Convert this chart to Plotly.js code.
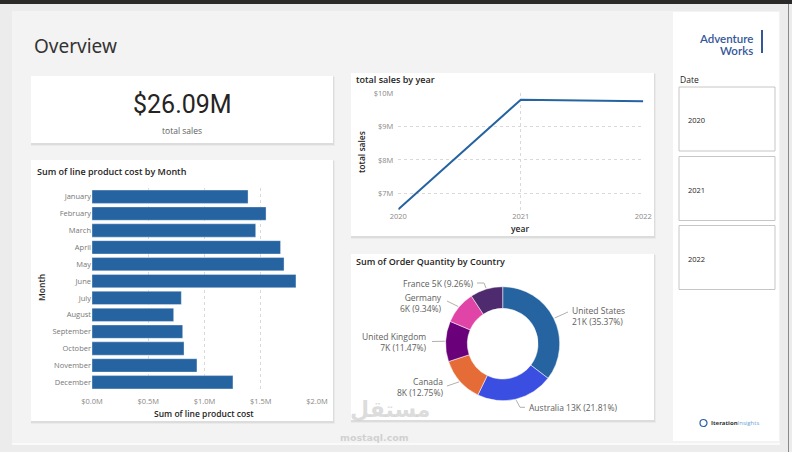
<!DOCTYPE html>
<html><head><meta charset="utf-8">
<script src="https://cdn.plot.ly/plotly-3.0.1.min.js"></script>
<style>html,body{margin:0;padding:0;background:#ececec;overflow:hidden}#chart{width:792px;height:452px}</style>
</head><body><div id="chart"></div>
<script>
// ---------- data ----------
const months = ['January','February','March','April','May','June','July','August','September','October','November','December'];
const lineCostM = [1.387,1.547,1.455,1.676,1.707,1.813,0.794,0.726,0.806,0.818,0.933,1.253];
const years = [2020,2021,2022];
const salesM = [6.52,9.81,9.76];
const countries = ['United States','Australia','Canada','United Kingdom','Germany','France'];
const orderQty = [21000,12950,7570,6810,5546,5498];
const countryColors = ['#2664a1','#3b4ee2','#e66c37','#6b007b','#e044a7','#4e2a6f'];
const slicerYears = ['2020','2021','2022'];
const barTicks = [0,0.5,1.0,1.5,2.0];
const lineTicks = [7,8,9,10];

// ---------- helpers ----------
const W=792,H=452;
const X=p=>p/W, Y=p=>1-p/H;
const FONT='Open Sans, Noto Sans, sans-serif';
const shapes=[], ann=[];
function rect(x0,y0,x1,y1,fill,line,layer){shapes.push({type:'rect',xref:'paper',yref:'paper',x0:X(x0),x1:X(x1),y0:Y(y1),y1:Y(y0),fillcolor:fill,line:{width:line?1:0,color:line||'rgba(0,0,0,0)'},layer:layer||'below'});}
function seg(x0,y0,x1,y1,color,w){shapes.push({type:'line',xref:'paper',yref:'paper',x0:X(x0),x1:X(x1),y0:Y(y0),y1:Y(y1),line:{color:color,width:w||1},layer:'above'});}
function txt(x,y,text,o){o=o||{};ann.push({xref:'paper',yref:'paper',x:X(x),y:Y(y),text:text,showarrow:false,xanchor:o.xa||'left',yanchor:o.ya||'middle',align:o.align||(o.xa==='right'?'right':'left'),textangle:o.angle||0,font:{family:o.family||FONT,size:o.size||9,color:o.color||'#252423',weight:o.weight||'normal'}});}
function card(x0,y0,x1,y1){rect(x0,y0+1,x1+2,y1+3,'rgba(0,0,0,0.035)');rect(x0,y0,x1+1,y1+2,'rgba(0,0,0,0.06)');rect(x0,y0,x1,y1,'#ffffff');}

// ---------- background ----------
rect(0,0,792,452,'#ececec');
rect(12,11,780,443,'#f3f3f3');
rect(12,443,780,445,'#fafafa');
rect(0,0,792,4,'#2b2a29');
rect(788,4,789,452,'#8a8a8a');
rect(673,12,779,441,'#ffffff');
card(31,76,333,143);
card(31,160,333,421);
card(351,73,654,236);
card(351,254,654,420);

// ---------- texts ----------
txt(32,46,'Overview',{size:19,color:'#333333',family:'Noto Sans, sans-serif'});
const total = salesM.reduce((a,b)=>a+b,0);
txt(182,104,'$'+total.toFixed(2)+'M',{xa:'center',size:25,color:'#252423',family:'Roboto, sans-serif'});
txt(182,130,'total sales',{xa:'center',size:8.5,color:'#605e5c'});

txt(35,171,'Sum of line product cost by Month',{size:9,weight:600});
txt(41,288,'Month',{xa:'center',angle:-90,size:8.5,weight:600});
txt(204,413,'Sum of line product cost',{xa:'center',size:8.5,weight:600});

txt(354,79,'total sales by year',{size:9,weight:600});
txt(361,152,'total sales',{xa:'center',angle:-90,size:8.5,weight:600});
txt(520,228,'year',{xa:'center',size:8.5,weight:600});

txt(354,261,'Sum of Order Quantity by Country',{size:9,weight:600});

// slicer
txt(678,79,'Date',{size:8.5});
const boxTops=[87,156.5,225.5];
slicerYears.forEach((yr,i)=>{rect(679,boxTops[i],775,boxTops[i]+64,'#ffffff','#c8c6c4','above');txt(686,boxTops[i]+33,yr,{size:7.5,color:'#252423'});});

// logos
txt(755,38.5,'Adventure',{xa:'right',size:11.5,weight:600,color:'#34579a',family:'Lato, sans-serif'});
txt(755,50,'Works',{xa:'right',size:11.5,weight:600,color:'#34579a',family:'Lato, sans-serif'});
seg(762,30,762,53,'#34579a',2);
shapes.push({type:'circle',xref:'paper',yref:'paper',x0:X(700),x1:X(707),y0:Y(426.5),y1:Y(419.5),line:{color:'#2a5fa8',width:1.2},layer:'above'});
txt(709,423,'<b>Iteration</b><span style="color:#6aa3d8">Insights</span>',{size:6,color:'#333'});

// watermark
txt(390,409,'مستقل',{xa:'center',size:22,weight:'bold',color:'rgba(185,185,185,0.5)',family:'DejaVu Sans, sans-serif'});
txt(374,437,'mostaql.com',{xa:'center',size:9.5,weight:'bold',color:'rgba(185,185,185,0.6)',family:'DejaVu Sans, sans-serif'});

// ---------- donut labels ----------
const totalQty = orderQty.reduce((a,b)=>a+b,0);
const cx=502.7, cy=343.7, R=58;
const labelCfg = [
  {x:570,y:315.5,xa:'left',br:true,lx:568,ly:312},
  {x:527,y:407.3,xa:'left',br:false,lx:525,ly:407.3,mx:520},
  {x:445,y:387,xa:'right',br:true,lx:447,ly:386},
  {x:429,y:341.5,xa:'right',br:true,lx:432,ly:341.5},
  {x:444,y:302.5,xa:'right',br:true,lx:447,ly:301},
  {x:475,y:283,xa:'right',br:false,lx:477,ly:283,mx:484}
];
let cum=0;
countries.forEach((c,i)=>{
  const frac=orderQty[i]/totalQty;
  const mid=(cum+frac/2)*2*Math.PI; cum+=frac;
  const sx=cx+R*Math.sin(mid), sy=cy-R*Math.cos(mid);
  const cfg=labelCfg[i];
  const val=Math.round(orderQty[i]/1000)+'K ('+(frac*100).toFixed(2)+'%)';
  txt(cfg.x,cfg.y,c+(cfg.br?'<br>':' ')+val,{xa:cfg.xa,size:8.5,color:'#605e5c'});
  if(cfg.mx!==undefined){seg(sx,sy,cfg.mx,cfg.ly,'#b3b0ad',1);seg(cfg.mx,cfg.ly,cfg.lx,cfg.ly,'#b3b0ad',1);}
  else seg(sx,sy,cfg.lx,cfg.ly,'#b3b0ad',1);
});

// ---------- traces ----------
const tickFont={family:FONT,size:7.5,color:'#8a8886'};
const traces=[
  {type:'bar',orientation:'h',x:lineCostM,y:months,xaxis:'x',yaxis:'y',marker:{color:'#2664a1',line:{color:'rgba(255,255,255,0.35)',width:1}},hoverinfo:'x+y'},
  {type:'scatter',mode:'lines',x:years,y:salesM,xaxis:'x2',yaxis:'y2',line:{color:'#2664a1',width:2}},
  {type:'pie',values:orderQty,labels:countries,hole:0.62,sort:false,direction:'clockwise',rotation:0,textinfo:'none',
   marker:{colors:countryColors,line:{color:'#ffffff',width:0.5}},domain:{x:[X(cx-57),X(cx+57)],y:[Y(cy+57),Y(cy-57)]},showlegend:false}
];
const layout={
  width:W,height:H,margin:{l:0,r:0,t:0,b:0},paper_bgcolor:'#ececec',plot_bgcolor:'rgba(0,0,0,0)',
  showlegend:false,font:{family:FONT},bargap:0.21,
  xaxis:{domain:[X(92),X(317)],anchor:'y',range:[0,2.0],tickmode:'array',tickvals:barTicks,ticktext:barTicks.map(v=>'$'+v.toFixed(1)+'M'),
    showgrid:true,griddash:'dot',gridcolor:'#d9d9d9',zeroline:false,showline:false,tickfont:tickFont,ticklabelstandoff:5,fixedrange:true},
  yaxis:{domain:[Y(390.7),Y(188.3)],anchor:'x',type:'category',categoryorder:'array',categoryarray:months,autorange:'reversed',
    showgrid:false,zeroline:false,tickfont:{family:FONT,size:7.5,color:'#777'},fixedrange:true},
  xaxis2:{domain:[X(398.3),X(643.3)],anchor:'y2',range:[2020,2022],tickmode:'array',tickvals:years,ticktext:years.map(String),showgrid:true,griddash:'dot',gridcolor:'#d9d9d9',
    zeroline:false,tickfont:tickFont,fixedrange:true},
  yaxis2:{domain:[Y(210),Y(93.3)],anchor:'x2',range:[6.5,10],tickmode:'array',tickvals:lineTicks,ticktext:lineTicks.map(v=>'$'+v+'M'),showgrid:true,griddash:'dot',
    gridcolor:'#d9d9d9',zeroline:false,tickfont:tickFont,ticklabelstandoff:4,fixedrange:true},
  shapes:shapes,annotations:ann
};
Plotly.newPlot('chart',traces,layout,{displayModeBar:false,staticPlot:true});
</script></body></html>
